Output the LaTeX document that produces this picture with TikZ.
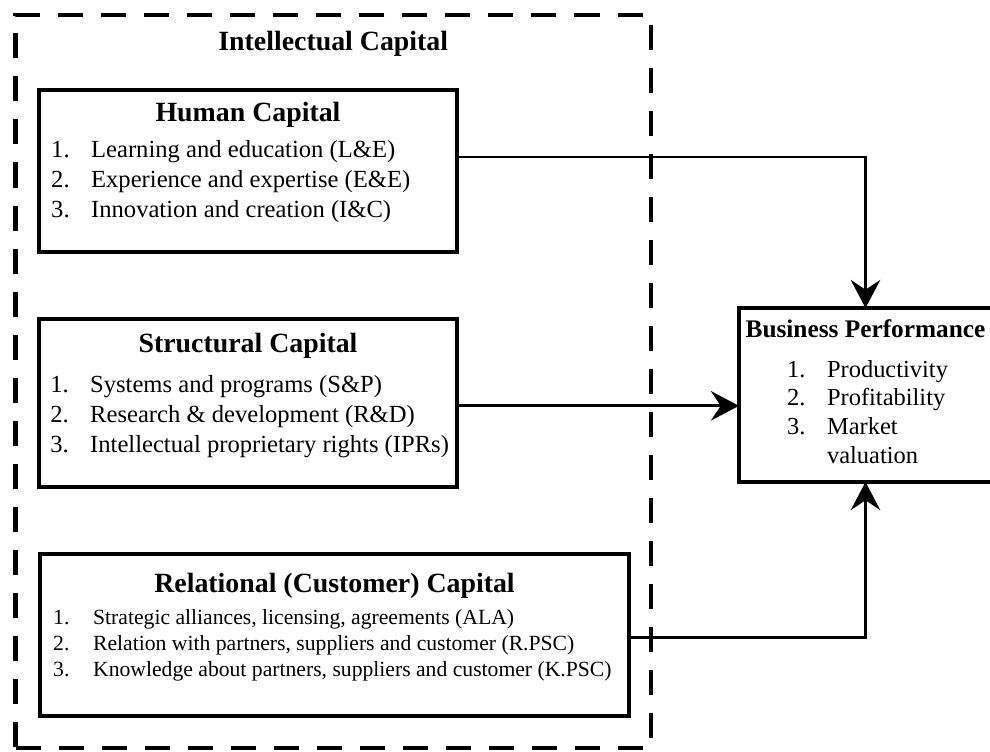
\documentclass[tikz,border=0pt]{standalone}
\usepackage{fontspec}
\setmainfont{Liberation Serif}
\usepackage{tikz}
\usetikzlibrary{positioning, fit, arrows.meta}

\newcommand{\capno}[1]{\strut\makebox[28.4pt][l]{#1}}

\begin{document}
\begin{tikzpicture}[x=0.025cm, y=-0.025cm,
    capbox/.style={draw, line width=2.8pt, inner sep=0pt, outer sep=0pt},
    captitle/.style={inner sep=0pt, text height=14pt, text depth=4pt, font=\bfseries\fontsize{19.8}{23.8}\selectfont},
    caplist/.style={inner sep=0pt, align=left, font=\fontsize{17.5}{21.3}\selectfont},
    flow/.style={line width=1.9pt, -{Stealth[length=20pt, width=21pt, inset=7pt]}}]
  \useasboundingbox (0,0) rectangle (990,751);
  % intellectual capital
  \node[capbox, line width=3.5pt, dash pattern=on 17.8pt off 12.8pt, fit={(15.5,15) (651,748)}] (ic) {};
  \node[captitle, below=11pt of ic.north] (ict) {Intellectual Capital};
  % human
  \node[capbox, fit={(39,90) (457,252)}] (hc) {};
  \node[captitle, below=8pt of hc.north] (hct) {Human Capital};
  \node[caplist, below right=32.7pt and 8.5pt of hc.north west] (hcl) {\capno{1.}Learning and education (L\&E)\\
    \capno{2.}Experience and expertise (E\&E)\\
    \capno{3.}Innovation and creation (I\&C)};
  % structural
  \node[capbox, fit={(39,319) (457,487)}] (sc) {};
  \node[captitle, below=9.5pt of sc.north] (sct) {Structural Capital};
  \node[caplist, below right=37pt and 7.8pt of sc.north west] (scl) {\capno{1.}Systems and programs (S\&P)\\
    \capno{2.}Research \& development (R\&D)\\
    \capno{3.}Intellectual proprietary rights (IPRs)};
  % relational
  \node[capbox, fit={(40,554) (629,716)}] (rc) {};
  \node[captitle, below=13pt of rc.north] (rct) {Relational (Customer) Capital};
  \node[caplist, font=\fontsize{15.4}{18.5}\selectfont, below right=37pt and 9.2pt of rc.north west] (rcl) {\capno{1.}Strategic alliances, licensing, agreements (ALA)\\
    \capno{2.}Relation with partners, suppliers and customer (R.PSC)\\
    \capno{3.}Knowledge about partners, suppliers and customer (K.PSC)};
  % business performance
  \node[capbox, fit={(739,308) (992,482)}] (bp) {};
  \node[captitle, font=\bfseries\fontsize{18}{21.6}\selectfont, below=6.6pt of bp.north] (bpt) {Business Performance};
  \node[caplist, font=\fontsize{17.4}{20.4}\selectfont, below right=34.6pt and 34pt of bp.north west] (bpl) {\capno{1.}Productivity\\
    \capno{2.}Profitability\\
    \capno{3.}Market\\
    \capno{}valuation};
  \draw[flow] ([yshift=10pt]hc.east) -| (bp.north);
  \draw[flow] ([yshift=-2pt]sc.east) -- ([yshift=-2pt]sc.east -| bp.west);
  \draw[flow] ([yshift=-1.8pt]rc.east) -| (bp.south);
\end{tikzpicture}
\end{document}
